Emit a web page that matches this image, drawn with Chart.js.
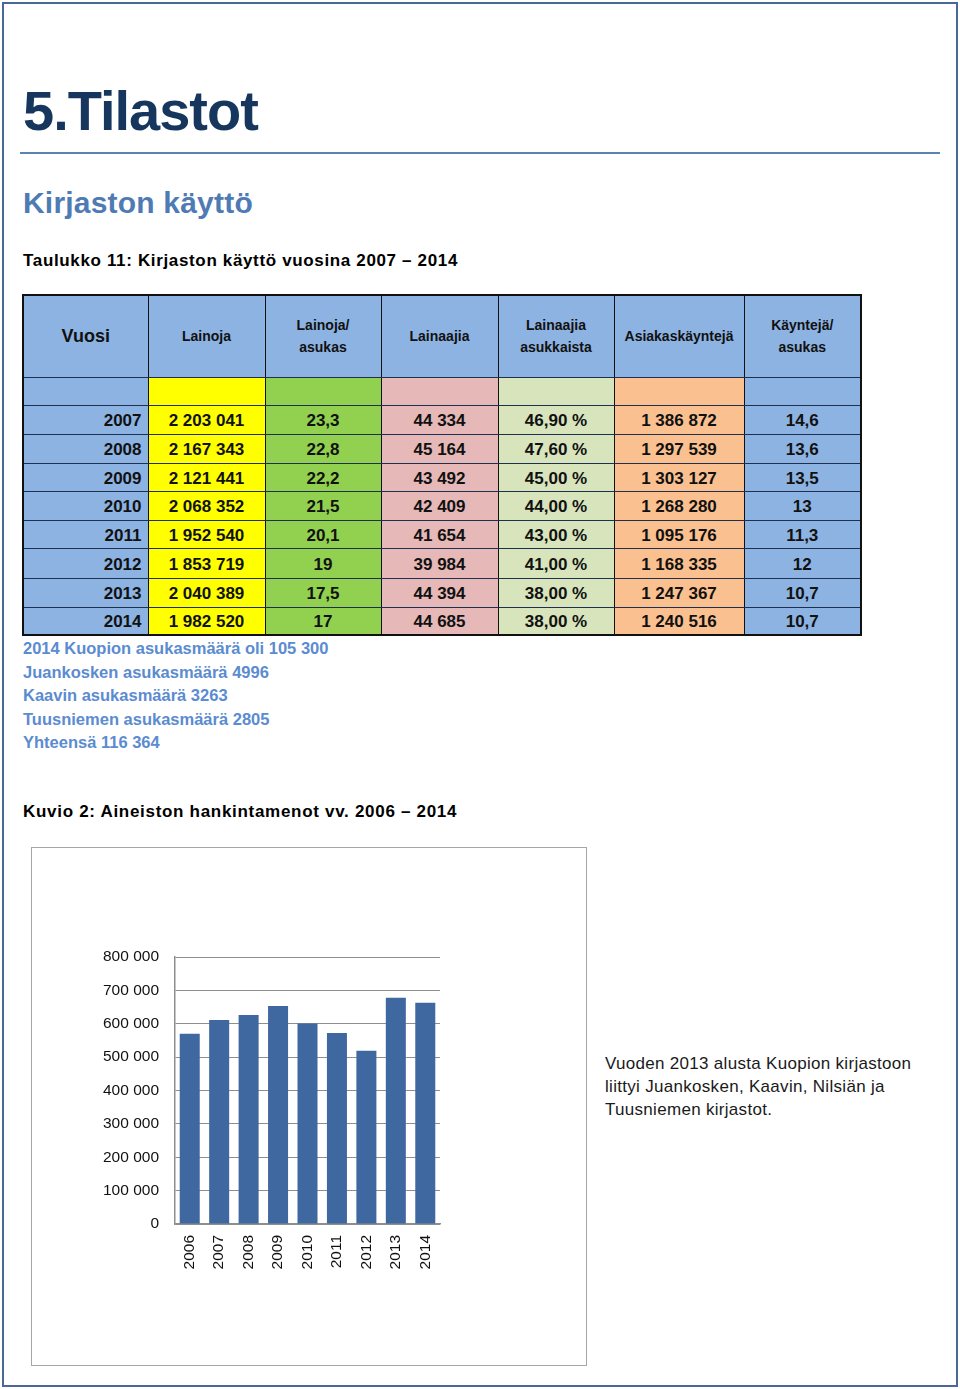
<!DOCTYPE html>
<html lang="fi">
<head>
<meta charset="utf-8">
<script src="https://cdn.jsdelivr.net/npm/chart.js@4/dist/chart.umd.min.js"></script>
<style>
  html, body { margin:0; padding:0; background:#fff; }
  body { width:960px; height:1389px; position:relative; overflow:hidden; font-family:"Liberation Sans", Arial, sans-serif; }
  .frame { position:absolute; left:2px; top:2px; width:952px; height:1381px; border:2px solid #4a6894; }
  .abs { position:absolute; white-space:nowrap; }
  #title { left:23px; top:79px; font-size:56px; font-weight:bold; color:#17365d; letter-spacing:-1px; line-height:1.15; }
  #rule { left:20px; top:152px; width:920px; height:2px; background:#5b82b5; }
  #sub { left:23px; top:186px; font-size:30px; font-weight:bold; color:#4f7bb5; line-height:1.15; letter-spacing:0.2px; }
  #cap1 { left:23px; top:251px; font-size:17px; font-weight:bold; color:#000; line-height:1.15; letter-spacing:0.65px; }
  #cap2 { left:23px; top:802px; font-size:17px; font-weight:bold; color:#000; line-height:1.15; letter-spacing:0.7px; }
  #notes { left:23px; top:637px; font-size:16.5px; font-weight:bold; color:#5b8bd0; line-height:23.5px; }
  #side { left:605px; top:1052px; font-size:17px; color:#1a1a1a; line-height:23px; letter-spacing:0.3px; }
  table { position:absolute; left:22px; top:294px; border-collapse:collapse; border:2px solid #111; table-layout:fixed; }
  td { padding:0; border-left:1.5px solid #111; border-right:1.5px solid #111; border-top:1px solid #1f2f4f; border-bottom:1px solid #1f2f4f; font-weight:bold; color:#111; text-align:center; vertical-align:middle; }
  thead td { font-size:14px; line-height:22px; background:#8db3e2; }
  tbody td { font-size:17px; line-height:20px; padding-top:3px; }
  td.yr { text-align:right; padding-right:6px; background:#8db3e2; }
  .c1 { background:#ffff00; } .c2 { background:#92d050; } .c3 { background:#e6b9b8; }
  .c4 { background:#d7e4bc; } .c5 { background:#fac090; } .c6 { background:#8db3e2; }
  #chartbox { position:absolute; left:31px; top:847px; width:554px; height:517px; border:1px solid #a6a6a6; }
</style>
</head>
<body>
<div class="frame"></div>
<div id="title" class="abs">5.Tilastot</div>
<div id="rule" class="abs"></div>
<div id="sub" class="abs">Kirjaston käyttö</div>
<div id="cap1" class="abs">Taulukko 11: Kirjaston käyttö vuosina 2007 – 2014</div>
<table id="tbl"></table>
<div id="notes" class="abs"></div>
<div id="cap2" class="abs">Kuvio 2: Aineiston hankintamenot vv. 2006 – 2014</div>
<div id="chartbox"><canvas id="c"></canvas></div>
<div id="side" class="abs">Vuoden 2013 alusta Kuopion kirjastoon<br>liittyi Juankosken, Kaavin, Nilsiän ja<br>Tuusniemen kirjastot.</div>
<script>
// ---- Table data ----
const tableHeaders = ["Vuosi", "Lainoja", "Lainoja/<br>asukas", "Lainaajia", "Lainaajia<br>asukkaista", "Asiakaskäyntejä", "Käyntejä/<br>asukas"];
const tableYears = ["2007", "2008", "2009", "2010", "2011", "2012", "2013", "2014"];
const lainoja = ["2 203 041", "2 167 343", "2 121 441", "2 068 352", "1 952 540", "1 853 719", "2 040 389", "1 982 520"];
const lainojaPerAsukas = ["23,3", "22,8", "22,2", "21,5", "20,1", "19", "17,5", "17"];
const lainaajia = ["44 334", "45 164", "43 492", "42 409", "41 654", "39 984", "44 394", "44 685"];
const lainaajiaPct = ["46,90 %", "47,60 %", "45,00 %", "44,00 %", "43,00 %", "41,00 %", "38,00 %", "38,00 %"];
const asiakaskaynteja = ["1 386 872", "1 297 539", "1 303 127", "1 268 280", "1 095 176", "1 168 335", "1 247 367", "1 240 516"];
const kayntejaPerAsukas = ["14,6", "13,6", "13,5", "13", "11,3", "12", "10,7", "10,7"];
const notes = ["2014 Kuopion asukasmäärä oli 105 300", "Juankosken asukasmäärä 4996", "Kaavin asukasmäärä 3263", "Tuusniemen asukasmäärä 2805", "Yhteensä 116 364"];

// ---- Chart data ----
const chartYears = ["2006", "2007", "2008", "2009", "2010", "2011", "2012", "2013", "2014"];
const hankintamenot = [570000, 611000, 626000, 653000, 601000, 572000, 519000, 678000, 663000];
const yTicks = [0, 100000, 200000, 300000, 400000, 500000, 600000, 700000, 800000];

// build table
const colWidths = [125, 117, 116, 117, 116, 130, 117];
const rowHeights = [29, 29, 28, 29, 28, 30, 29, 28];
const tbl = document.getElementById('tbl');
let html = '<colgroup>' + colWidths.map(w => '<col style="width:' + w + 'px">').join('') + '</colgroup>';
html += '<thead><tr style="height:82px">' + tableHeaders.map((h, i) =>
  '<td' + (i === 0 ? ' style="font-size:18px"' : '') + '>' + h + '</td>').join('') + '</tr></thead><tbody>';
html += '<tr style="height:28px"><td class="c6"></td><td class="c1"></td><td class="c2"></td><td class="c3"></td><td class="c4"></td><td class="c5"></td><td class="c6"></td></tr>';
tableYears.forEach((y, i) => {
  html += '<tr style="height:' + rowHeights[i] + 'px"><td class="yr">' + y + '</td>' +
    '<td class="c1">' + lainoja[i] + '</td>' +
    '<td class="c2">' + lainojaPerAsukas[i] + '</td>' +
    '<td class="c3">' + lainaajia[i] + '</td>' +
    '<td class="c4">' + lainaajiaPct[i] + '</td>' +
    '<td class="c5">' + asiakaskaynteja[i] + '</td>' +
    '<td class="c6">' + kayntejaPerAsukas[i] + '</td></tr>';
});
html += '</tbody>';
tbl.innerHTML = html;
document.getElementById('notes').innerHTML = notes.join('<br>');

// chart
const fmt = v => String(v).replace(/\B(?=(\d{3})+(?!\d))/g, ' ');
const gridCol = '#8e8e8e';
new Chart(document.getElementById('c'), {
  type: 'bar',
  data: {
    labels: chartYears,
    datasets: [{ data: hankintamenot, backgroundColor: '#4068a0', borderWidth: 0, barPercentage: 0.68, categoryPercentage: 1 }]
  },
  options: {
    responsive: true, maintainAspectRatio: false, animation: false, devicePixelRatio: 1,
    layout: { padding: { left: 0, right: 146, top: 109, bottom: 0 } },
    plugins: { legend: { display: false }, tooltip: { enabled: false }, title: { display: false } },
    scales: {
      x: {
        grid: { display: true, color: 'rgba(0,0,0,0)', drawTicks: false },
        border: { display: true, color: gridCol, width: 1.5 },
        ticks: { minRotation: 90, maxRotation: 90, padding: 11, color: '#111', font: { family: 'Liberation Sans', size: 15.5 } },
        afterFit: s => { s.height = 141; }
      },
      y: {
        min: 0, max: 800000,
        afterBuildTicks: s => { s.ticks = yTicks.map(v => ({ value: v })); },
        grid: { color: gridCol, lineWidth: 1, drawTicks: false },
        border: { display: true, color: gridCol, width: 1.5 },
        ticks: { padding: 16, color: '#111', font: { family: 'Liberation Sans', size: 15.5 }, callback: v => fmt(v) },
        afterFit: s => { s.width = 143; }
      }
    }
  }
});
</script>
</body>
</html>
